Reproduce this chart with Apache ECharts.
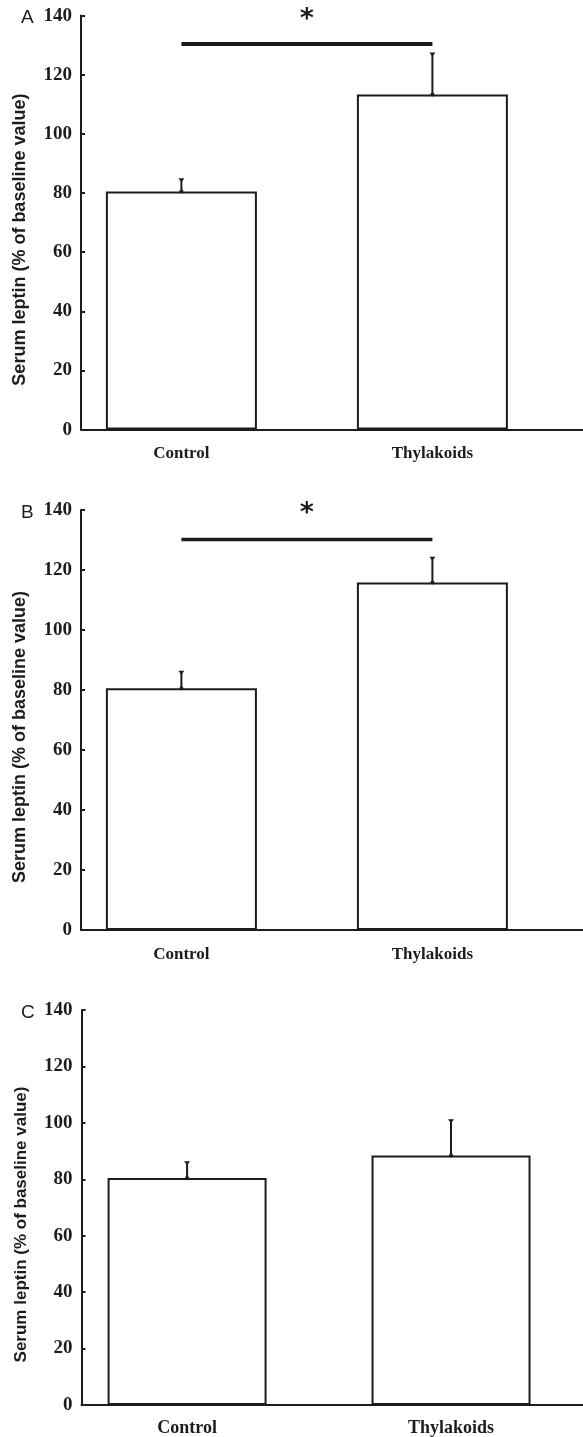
<!doctype html>
<html>
<head>
<meta charset="UTF-8">
<title>Serum leptin</title>
<script src="https://cdn.jsdelivr.net/npm/echarts@6/dist/echarts.min.js"></script>
<style>
  html, body { margin: 0; padding: 0; background: #fff; }
  #main { width: 583px; height: 1437px; }
</style>
</head>
<body>
<div id="main"></div>
<script>
// groups on the x axis
var categories = ['Control', 'Thylakoids'];
var panels = ['A', 'B', 'C'];
var yTicks = [0, 20, 40, 60, 80, 100, 120, 140];

// mean values and upper error (SEM) per panel
var meansA = [80.5, 113.3];
var errA = [4.2, 13.9];
var meansB = [80.6, 115.8];
var errB = [5.5, 8.3];
var meansC = [80.5, 88.4];
var errC = [5.5, 12.5];

// significance bracket level, star level (null = no bracket)
var sigA = [130.4, 140.6];
var sigB = [130.2, 140.6];
var sigC = null;

var yTitle = 'Serum leptin (% of baseline value)';
var ink = '#1c1c1c';

var chart = echarts.init(document.getElementById('main'));

var layout = [
  { left: 81, top: 15.6, height: 414, width: 502, xmax: 2.6, barW: 151, labelGap: 16, titleSize: 18, sigW: 4 },
  { left: 81, top: 510, height: 420, width: 502, xmax: 2.6, barW: 151, labelGap: 16, titleSize: 18, sigW: 3.5 },
  { left: 81.5, top: 1010, height: 396, width: 502, xmax: 2.5, barW: 159, labelGap: 14, titleSize: 17, sigW: 3.5 }
];
var means = [meansA, meansB, meansC];
var errs = [errA, errB, errC];
var sigs = [sigA, sigB, sigC];

var grids = [], xAxes = [], yAxes = [], series = [], titles = [];

layout.forEach(function (L, i) {
  grids.push({ left: L.left, top: L.top, width: L.width, height: L.height });
  xAxes.push({
    type: 'value', gridIndex: i, min: 0.6, max: L.xmax,
    axisLine: { lineStyle: { color: ink, width: 2 } },
    axisTick: { show: false },
    splitLine: { show: false },
    axisLabel: {
      customValues: [1, 2],
      margin: L.labelGap,
      color: ink,
      fontFamily: 'Liberation Serif',
      fontWeight: 'bold',
      fontSize: i === 2 ? 18 : 17,
      formatter: function (v) { return categories[Math.round(v) - 1]; }
    }
  });
  yAxes.push({
    type: 'value', gridIndex: i, min: 0, max: 140, interval: 20,
    axisLine: { show: true, lineStyle: { color: ink, width: 2 } },
    axisTick: { show: true, inside: true, length: 4, lineStyle: { color: ink, width: 2 } },
    splitLine: { show: false },
    axisLabel: {
      margin: 9, color: ink,
      fontFamily: 'Liberation Serif', fontWeight: 'bold', fontSize: 19
    },
    name: yTitle,
    nameLocation: 'middle',
    nameGap: 52,
    nameTextStyle: {
      color: ink, fontFamily: 'Liberation Sans', fontWeight: 'bold',
      fontSize: L.titleSize, padding: [0, 34, 0, 0]
    }
  });
  titles.push({
    text: panels[i], left: 21, top: L.top - 7, padding: 0,
    textStyle: { color: ink, fontFamily: 'Liberation Sans', fontWeight: 'normal', fontSize: 19 }
  });

  series.push({
    type: 'bar', xAxisIndex: i, yAxisIndex: i,
    barWidth: L.barW,
    itemStyle: { color: '#fff', borderColor: ink, borderWidth: 2 },
    data: means[i].map(function (m, k) { return [k + 1, m]; }),
    z: 2
  });

  series.push({
    type: 'custom', xAxisIndex: i, yAxisIndex: i, z: 3,
    data: means[i].map(function (m, k) { return [k + 1, m, m + errs[i][k]]; }),
    renderItem: function (params, api) {
      var p0 = api.coord([api.value(0), api.value(1)]);
      var p1 = api.coord([api.value(0), api.value(2)]);
      return {
        type: 'group',
        children: [
          { type: 'line', shape: { x1: p0[0], y1: p0[1], x2: p1[0], y2: p1[1] },
            style: { stroke: ink, lineWidth: 2 } },
          { type: 'polygon', shape: { points: [[p1[0] - 3, p1[1] - 1], [p1[0] + 3, p1[1] - 1], [p1[0], p1[1] + 3]] },
            style: { fill: ink } },
          { type: 'circle', shape: { cx: p0[0], cy: p0[1], r: 2 }, style: { fill: ink } }
        ]
      };
    }
  });

  if (sigs[i]) {
    var sw = L.sigW;
    series.push({
      type: 'custom', xAxisIndex: i, yAxisIndex: i, z: 4, clip: false,
      data: [[1, 2, sigs[i][0], sigs[i][1]]],
      renderItem: function (params, api) {
        var a = api.coord([api.value(0), api.value(2)]);
        var b = api.coord([api.value(1), api.value(2)]);
        var s = api.coord([(api.value(0) + api.value(1)) / 2, api.value(3)]);
        return {
          type: 'group',
          children: [
            { type: 'line', shape: { x1: a[0], y1: a[1], x2: b[0], y2: b[1] },
              style: { stroke: ink, lineWidth: sw } },
            { type: 'text', x: s[0], y: s[1] + 6,
              style: { text: '*', fill: ink, font: 'bold 27px "DejaVu Sans"', align: 'center', verticalAlign: 'middle' } }
          ]
        };
      }
    });
  }
});

chart.setOption({
  animation: false,
  backgroundColor: '#fff',
  title: titles,
  grid: grids,
  xAxis: xAxes,
  yAxis: yAxes,
  series: series
});
</script>
</body>
</html>
